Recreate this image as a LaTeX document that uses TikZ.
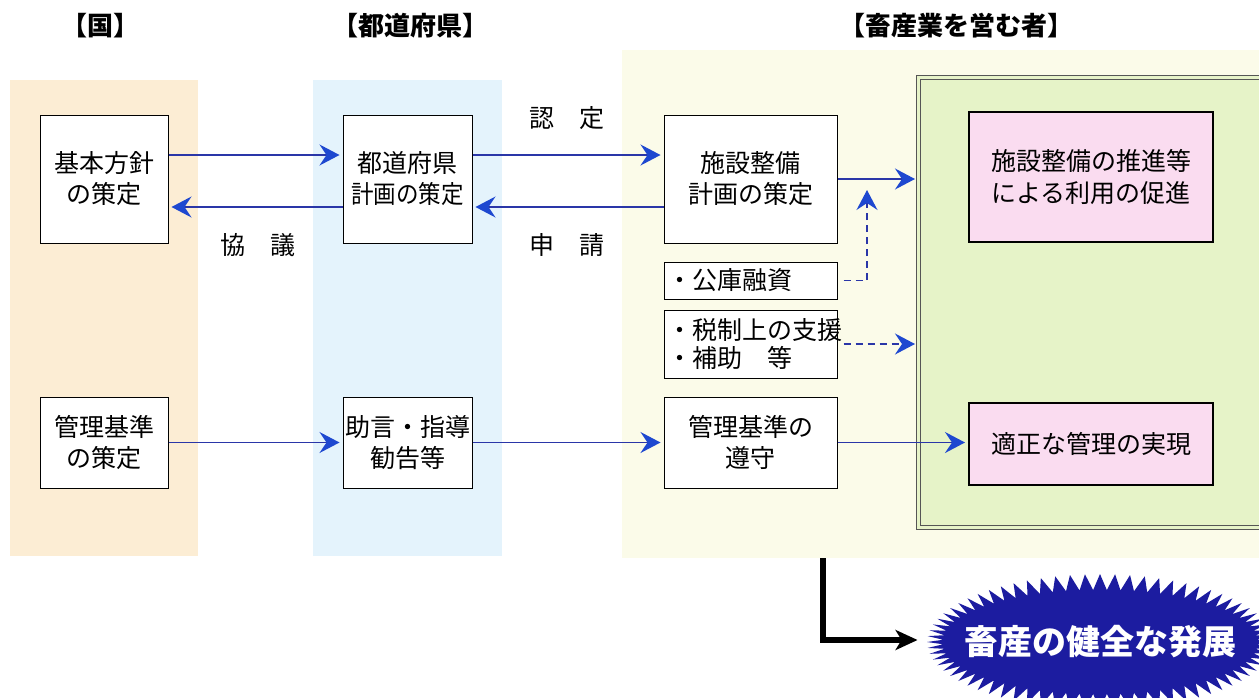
\documentclass[tikz,border=0pt]{standalone}
\usepackage{fontspec}
\usepackage{graphicx}
\setmainfont{Noto Sans CJK JP}
\usetikzlibrary{shapes.symbols,arrows.meta}
\definecolor{bgorange}{HTML}{FCEDD4}
\definecolor{bgblue}{HTML}{E4F3FC}
\definecolor{bgcream}{HTML}{FBFBE9}
\definecolor{bggreen}{HTML}{E6F3C8}
\definecolor{pinkfill}{HTML}{FADCF0}
\definecolor{arrowblue}{HTML}{2A36A8}
\definecolor{headblue}{HTML}{1E48D0}
\definecolor{starblue}{HTML}{1C1CA0}
\definecolor{frame}{HTML}{555555}
\begin{document}
\begin{tikzpicture}[x=1pt,y=-1pt,
  box/.style={draw=black, fill=white, line width=1pt, align=center, inner sep=0pt,
    font=\fontsize{25}{31}\selectfont},
  listbox/.style={draw=black, fill=white, line width=1pt, align=left, inner xsep=3pt, inner ysep=0pt,
    text width=167pt, font=\fontsize{25}{28}\selectfont},
  pinkbox/.style={draw=black, fill=pinkfill, line width=2pt, align=center, inner sep=0pt,
    minimum width=244pt, font=\fontsize{25}{32}\selectfont},
  head/.style={font=\bfseries\fontsize{26}{26}\selectfont, inner sep=0pt},
  lbl/.style={font=\fontsize{25}{25}\selectfont, inner sep=0pt},
  arr/.style={draw=arrowblue, line width=1.4pt, shorten >=3pt,
    -{Stealth[length=20pt,width=21pt,inset=7pt,color=headblue,fill=headblue]}},
  darr/.style={arr, dash pattern=on 7pt off 5pt, shorten <=6pt},
  blk/.style={draw=black, line width=6pt, line join=miter, shorten >=8pt,
    -{Stealth[length=22pt,width=20pt,inset=6pt]}}
]
\useasboundingbox (0,0) rectangle (1259,697);
% column backgrounds
\fill[bgorange] (10,80) rectangle (198,556);
\fill[bgblue] (313,80) rectangle (502,556);
\fill[bgcream] (622,50) rectangle (1259,558);
% green region with double frame
\node[draw=frame, line width=1pt, double=bggreen, double distance=3pt, fill=bggreen,
  minimum width=352pt, minimum height=450pt, inner sep=0pt] (green) at (1094.5,302) {};

% headings
\node[head] (h1) at (100,26) {【国】};
\node[head] (h2) at (410,26) {【都道府県】};
\node[head] (h3) at (956,26) {【畜産業を営む者】};

% boxes
\node[box, minimum width=128pt, minimum height=128pt] (b1) at (104,179) {基本方針\\の策定};
\node[box, minimum width=129pt, minimum height=128pt] (b2) at (407.5,179) {都道府県\\\scalebox{0.9}[1]{計画の策定}};
\node[box, minimum width=173pt, minimum height=128pt] (s1) at (750.5,179) {施設整備\\計画の策定};
\node[listbox, minimum height=37pt] (k) at (750.5,280.5) {・公庫融資};
\node[listbox, minimum height=68pt] (z) at (750.5,344) {・税制上の支援\\・補助　等};
\node[box, minimum width=128pt, minimum height=91pt] (m1) at (104,442.5) {管理基準\\の策定};
\node[box, minimum width=129pt, minimum height=91pt] (m2) at (407.5,442.5) {助言・指導\\勧告等};
\node[box, minimum width=173pt, minimum height=91pt] (j) at (750.5,442.5) {管理基準の\\遵守};
\node[pinkbox, minimum height=130pt] (p1) at (1091,177) {施設整備の推進等\\による利用の促進};
\node[pinkbox, minimum height=82pt] (p2) at (1091,444) {適正な管理の実現};

% labels
\node[lbl] (l1) at (258,245) {協　議};
\node[lbl] (l2) at (567,118) {認　定};
\node[lbl] (l3) at (567,245) {申　請};

% starburst
\node[starburst, starburst points=72, starburst point height=16pt, random starburst=0,
  fill=starblue, draw=none, minimum width=346pt, minimum height=136pt, inner sep=0pt] (star) at (1100,642) {};
\node[text=white, font=\bfseries\fontsize{34}{34}\selectfont, inner sep=0pt] (startext) at (star.center) {畜産の健全な発展};

% connectors
\draw[arr] ([yshift=24pt]b1.east) -- ([yshift=24pt]b2.west);
\draw[arr] ([yshift=-28pt]b2.west) -- ([yshift=-28pt]b1.east);
\draw[arr] ([yshift=24pt]b2.east) -- ([yshift=24pt]s1.west);
\draw[arr] ([yshift=-28pt]s1.west) -- ([yshift=-28pt]b2.east);
\draw[arr] (s1.east) -- (s1.east -| green.west);
\coordinate (kup) at (867,187);
\draw[darr] (k.east) -| (kup);
\draw[darr] (z.east) -- (z.east -| green.west);
\draw[arr] (m1.east) -- (m2.west);
\draw[arr] (m2.east) -- (j.west);
\draw[arr] (j.east) -- (j.east -| p2.west);
\coordinate (bstart) at (823,558);
\draw[blk] (bstart) |- ([yshift=2pt]star.west);
\end{tikzpicture}
\end{document}
